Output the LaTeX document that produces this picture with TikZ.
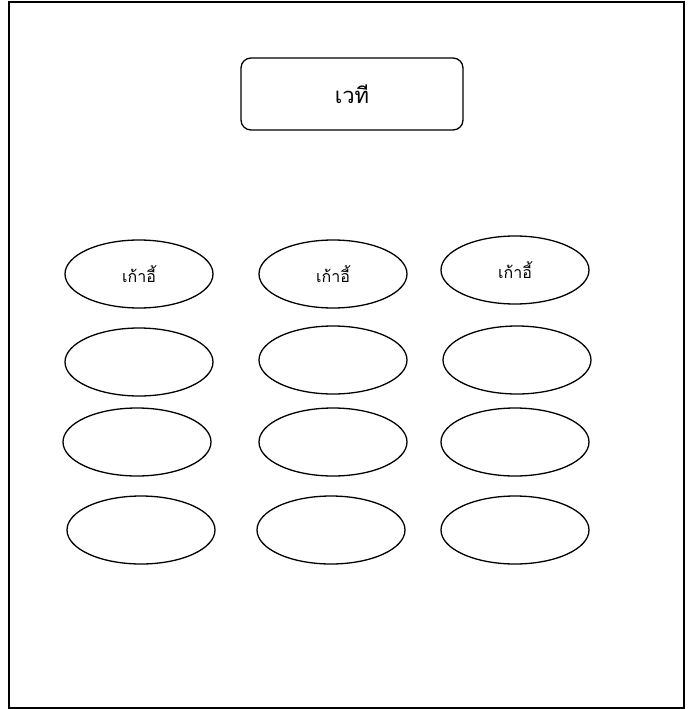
\documentclass[tikz,border=0pt]{standalone}
\usepackage{fontspec}
\newfontfamily\thaifont[Script=Thai]{Loma}
\usetikzlibrary{shapes.geometric,positioning}
\tikzset{
  seat/.style={draw, ellipse, line width=1.3pt, inner sep=0pt,
    minimum width=148pt, minimum height=68pt, font=\thaifont\fontsize{16}{19}\selectfont},
  stagebox/.style={draw, rectangle, rounded corners=10pt, line width=1.3pt,
    minimum width=222pt, minimum height=72pt, font=\thaifont\fontsize{22}{25}\selectfont}
}
\begin{document}
\begin{tikzpicture}[x=1pt,y=-1pt]
  \useasboundingbox (0,0) rectangle (688,709);
  \draw[line width=1.3pt] (9,2) rectangle (684,708);
  \node[stagebox] (stage) at (352,94) {เวที};
  % seats, row by row
  \foreach \n/\x/\y/\t in {a1/139/274/เก้าอี้, a2/333/274/เก้าอี้, a3/515/270/เก้าอี้,
      b1/139/362/, b2/333/360/, b3/517/360/,
      c1/137/442/, c2/333/442/, c3/515/442/,
      d1/141/530/, d2/331/530/, d3/515/530/}{
    \node[seat] (seat\n) at (\x,\y) {\t};
  }
\end{tikzpicture}
\end{document}
